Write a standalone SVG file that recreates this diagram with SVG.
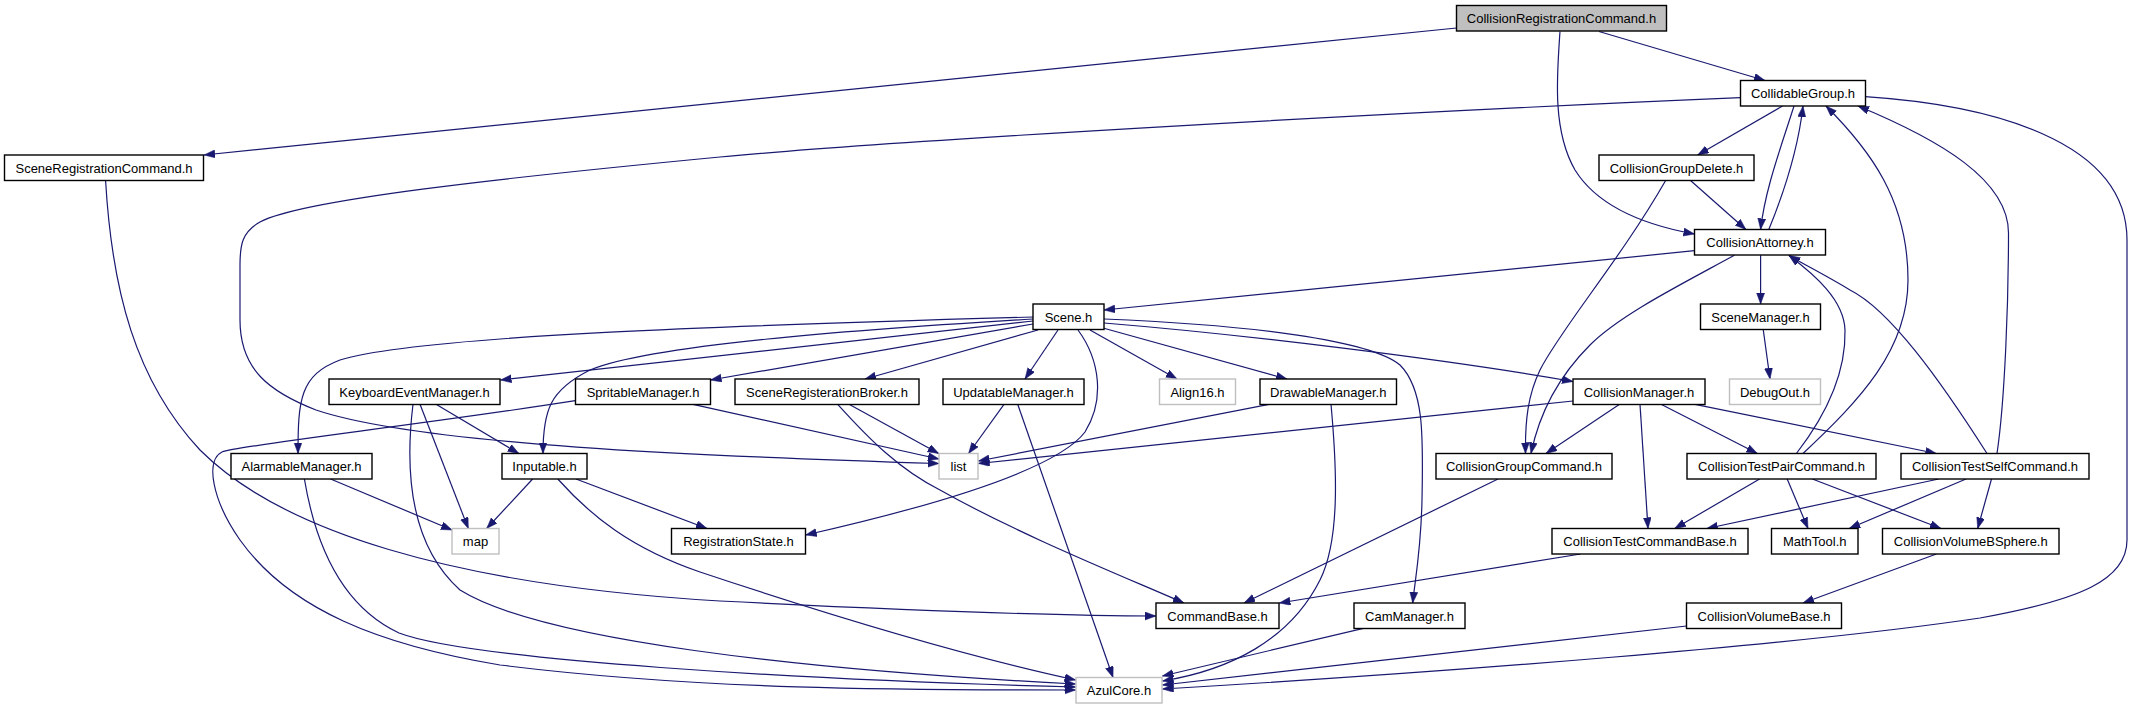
<svg xmlns="http://www.w3.org/2000/svg" width="2133" height="709" viewBox="0 0 2133 709">
<style>
.n rect{fill:#fff;stroke:#000;stroke-width:1.4}
.n.ext rect{stroke:#bfbfbf}
.n.root rect{fill:#bfbfbf}
.n text{font-family:"Liberation Sans",Arial,sans-serif;font-size:13px;fill:#000;text-anchor:middle}
#edges path{fill:none;stroke:#191970;stroke-width:1.2;marker-end:url(#arr)}
</style>
<defs>
<marker id="arr" markerUnits="userSpaceOnUse" markerWidth="12" markerHeight="9" refX="11" refY="4" orient="auto">
<path d="M0,0 L11,4 L0,8 Z" fill="#191970" stroke="#191970" stroke-width="0.5"/>
</marker>
</defs>
<rect width="2133" height="709" fill="#fff"/>
<g id="edges">
<path d="M1456.5,28 L204,155"/>
<path d="M1599,31.5 L1765,80.5"/>
<path d="M1560,31.5 C1557,75 1552,130 1575,170 C1600,210 1650,226 1694.5,234"/>
<path d="M105.6,180.7 C112,290 135,380 200,450 C280,530 450,585 720,601 C900,610 1050,616 1156,616"/>
<path d="M1740.5,97.7 C1400,112 900,140 720,157 C500,178 300,200 260,222 C242,232 240,245 240,265 L240,320 C240,370 270,392 316,410 C420,445 700,456 939,463.5"/>
<path d="M1782.6,106 L1697.7,155"/>
<path d="M1794,106 C1780,150 1765,190 1760.6,229.5"/>
<path d="M1768.8,229.5 C1785,190 1798,150 1803,106"/>
<path d="M1865.2,96.7 C1990,105 2127,140 2127,240 L2127,540 C2127,580 2080,600 1980,618 C1800,645 1450,672 1162.5,689"/>
<path d="M1690.8,180.7 L1745.9,229.5"/>
<path d="M1665.5,180.7 C1620,260 1560,330 1540,370 C1528,395 1525,420 1525.5,453.5"/>
<path d="M1694.5,250.7 L1104,310"/>
<path d="M1760.6,255.3 L1760.6,304"/>
<path d="M1734.4,255.3 C1680,285 1620,315 1590,345 C1560,375 1540,410 1531,453.5"/>
<path d="M1763.3,330 L1770,379"/>
<path d="M1803,453.5 C1860,400 1908,350 1908,280 C1908,200 1870,150 1826,106"/>
<path d="M1796.4,453.5 C1830,410 1846,370 1845,330 C1844,300 1815,275 1789,255.5"/>
<path d="M1997,453.5 C2005,400 2008.5,300 2008.5,233 C2008.5,180 1940,140 1858,106"/>
<path d="M1987,453.5 C1940,380 1890,310 1850,290 C1825,275 1805,265 1789,255.5"/>
<path d="M1033,321 L500.5,380"/>
<path d="M1033,324 L710.5,380"/>
<path d="M1038,330 L865,379"/>
<path d="M1058,330 L1025,379"/>
<path d="M1090,330 L1177,379"/>
<path d="M1103,328 L1287,379"/>
<path d="M1104,323 C1250,335 1450,360 1573,381.5"/>
<path d="M1104,319 C1250,325 1370,340 1400,365 C1425,390 1423,440 1422,500 C1421,550 1415,580 1412.7,603"/>
<path d="M1078,330 C1100,360 1105,400 1085,432 C1060,465 960,500 805.6,535"/>
<path d="M1033,317 C750,325 420,335 340,360 C300,375 298,400 298,453.5"/>
<path d="M1033,319 C850,330 650,345 590,370 C550,390 543,410 543,453.5"/>
<path d="M420,404.3 L468.3,528.5"/>
<path d="M436,404.3 L518.8,453.5"/>
<path d="M413,404.3 C405,470 410,545 460,590 C540,640 800,670 1075.6,684"/>
<path d="M330.6,479 L452,530"/>
<path d="M304.4,479 C318,560 350,610 399,633 C470,660 800,680 1075.6,687"/>
<path d="M575.3,400.7 C420,425 240,445 222,452 C205,460 212,500 240,540 C290,610 380,645 500,665 C700,690 900,690 1075.6,690"/>
<path d="M693,404.3 L939,459"/>
<path d="M849,404.3 L938.7,453.5"/>
<path d="M837.7,404.3 C870,440 900,470 940,490 C1020,535 1120,575 1184,603"/>
<path d="M1004,404.3 L968.6,453.5"/>
<path d="M1017.7,404.3 L1113,677.5"/>
<path d="M1269,404.3 L978.5,461"/>
<path d="M1331,404.3 C1337,470 1340,540 1320,580 C1290,640 1230,670 1162.5,681"/>
<path d="M1573,401 L978.5,463.5"/>
<path d="M1619.6,404.3 L1546,453.5"/>
<path d="M1640,404.3 L1648,528.5"/>
<path d="M1661,404.3 L1757.4,453.5"/>
<path d="M1695,404.3 L1936.4,453.5"/>
<path d="M1498,479 L1244,603"/>
<path d="M1759.6,479 L1674.7,528.5"/>
<path d="M1787.2,479 L1808,528.5"/>
<path d="M1812.4,479 L1941,528.5"/>
<path d="M1938.7,479 L1706.8,528.5"/>
<path d="M1966,479 L1849.2,528.5"/>
<path d="M1991.5,479 L1977.7,528.5"/>
<path d="M1580.6,554 L1279.3,603"/>
<path d="M1936.4,554 L1803,603"/>
<path d="M1686.6,626 L1162.5,685"/>
<path d="M1363.4,628.3 L1162.5,676"/>
<path d="M532.6,479 L486.7,528.5"/>
<path d="M576,479 L707,528.5"/>
<path d="M557.8,479 C590,515 630,548 700,572 C820,612 960,655 1075.6,680"/>
</g>
<g id="n_crc" class="n root"><rect x="1456.5" y="5.5" width="210" height="25.5"/><text x="1561.5" y="23">CollisionRegistrationCommand.h</text></g>
<g id="n_cg" class="n"><rect x="1740.5" y="80.5" width="125" height="25.5"/><text x="1803" y="98">CollidableGroup.h</text></g>
<g id="n_src" class="n"><rect x="4.5" y="155" width="199" height="25.5"/><text x="104" y="172.5">SceneRegistrationCommand.h</text></g>
<g id="n_cgd" class="n"><rect x="1599" y="155" width="155" height="25.5"/><text x="1676.5" y="172.5">CollisionGroupDelete.h</text></g>
<g id="n_ca" class="n"><rect x="1694.5" y="229.5" width="131" height="25.5"/><text x="1760" y="247">CollisionAttorney.h</text></g>
<g id="n_scene" class="n"><rect x="1033" y="304" width="71" height="25.5"/><text x="1068.5" y="321.5">Scene.h</text></g>
<g id="n_sm" class="n"><rect x="1700.5" y="304" width="120" height="25.5"/><text x="1760.5" y="321.5">SceneManager.h</text></g>
<g id="n_kem" class="n"><rect x="329" y="379" width="171" height="25.5"/><text x="414.5" y="396.5">KeyboardEventManager.h</text></g>
<g id="n_spr" class="n"><rect x="575.5" y="379" width="135" height="25.5"/><text x="643" y="396.5">SpritableManager.h</text></g>
<g id="n_srb" class="n"><rect x="735" y="379" width="184" height="25.5"/><text x="827" y="396.5">SceneRegisterationBroker.h</text></g>
<g id="n_upd" class="n"><rect x="943" y="379" width="141" height="25.5"/><text x="1013.5" y="396.5">UpdatableManager.h</text></g>
<g id="n_align" class="n ext"><rect x="1159.5" y="379" width="76" height="25.5"/><text x="1197.5" y="396.5">Align16.h</text></g>
<g id="n_draw" class="n"><rect x="1260" y="379" width="136.5" height="25.5"/><text x="1328.25" y="396.5">DrawableManager.h</text></g>
<g id="n_cm" class="n"><rect x="1573" y="379" width="132" height="25.5"/><text x="1639" y="396.5">CollisionManager.h</text></g>
<g id="n_dbg" class="n ext"><rect x="1729.5" y="379" width="91" height="25.5"/><text x="1775" y="396.5">DebugOut.h</text></g>
<g id="n_alarm" class="n"><rect x="231" y="453.5" width="141" height="25.5"/><text x="301.5" y="471">AlarmableManager.h</text></g>
<g id="n_inp" class="n"><rect x="502" y="453.5" width="85" height="25.5"/><text x="544.5" y="471">Inputable.h</text></g>
<g id="n_list" class="n ext"><rect x="939" y="453.5" width="39" height="25.5"/><text x="958.5" y="471">list</text></g>
<g id="n_cgc" class="n"><rect x="1436" y="453.5" width="176" height="25.5"/><text x="1524" y="471">CollisionGroupCommand.h</text></g>
<g id="n_ctpc" class="n"><rect x="1687" y="453.5" width="189" height="25.5"/><text x="1781.5" y="471">CollisionTestPairCommand.h</text></g>
<g id="n_ctsc" class="n"><rect x="1901" y="453.5" width="188" height="25.5"/><text x="1995" y="471">CollisionTestSelfCommand.h</text></g>
<g id="n_map" class="n ext"><rect x="452" y="528.5" width="47" height="25.5"/><text x="475.5" y="546">map</text></g>
<g id="n_rs" class="n"><rect x="671.5" y="528.5" width="134" height="25.5"/><text x="738.5" y="546">RegistrationState.h</text></g>
<g id="n_ctcb" class="n"><rect x="1552" y="528.5" width="196" height="25.5"/><text x="1650" y="546">CollisionTestCommandBase.h</text></g>
<g id="n_math" class="n"><rect x="1771.5" y="528.5" width="86.5" height="25.5"/><text x="1814.75" y="546">MathTool.h</text></g>
<g id="n_cvbs" class="n"><rect x="1882.5" y="528.5" width="176.5" height="25.5"/><text x="1970.75" y="546">CollisionVolumeBSphere.h</text></g>
<g id="n_cb" class="n"><rect x="1156" y="603" width="123" height="25.5"/><text x="1217.5" y="620.5">CommandBase.h</text></g>
<g id="n_cam" class="n"><rect x="1354" y="603" width="111" height="25.5"/><text x="1409.5" y="620.5">CamManager.h</text></g>
<g id="n_cvb" class="n"><rect x="1686.5" y="603" width="155" height="25.5"/><text x="1764" y="620.5">CollisionVolumeBase.h</text></g>
<g id="n_azul" class="n ext"><rect x="1076" y="677.5" width="86" height="25.5"/><text x="1119" y="695">AzulCore.h</text></g>
</svg>
